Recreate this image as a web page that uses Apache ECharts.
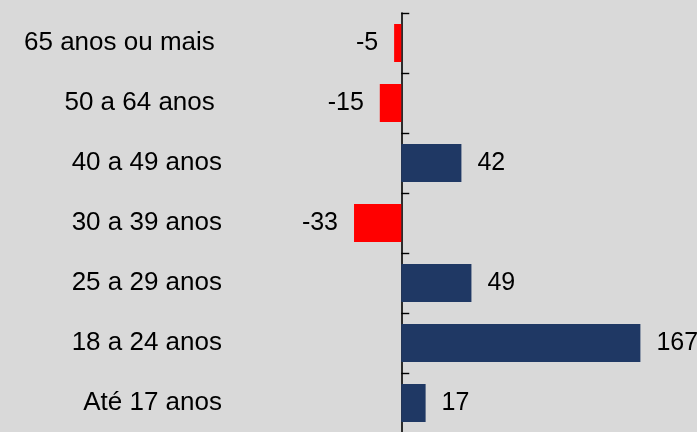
<!DOCTYPE html>
<html>
<head>
<meta charset="utf-8">
<script src="https://cdn.jsdelivr.net/npm/echarts@6/dist/echarts.min.js"></script>
<style>
html,body{margin:0;padding:0;background:#d9d9d9;}
#chart{width:697px;height:432px;}
</style>
</head>
<body>
<div id="chart"></div>
<script>
var categories = ['65 anos ou mais ', '50 a 64 anos ', '40 a 49 anos', '30 a 39 anos', '25 a 29 anos', '18 a 24 anos', 'Até 17 anos'];
var values = [-5, -15, 42, -33, 49, 167, 17];
var posColor = '#1f3864';
var negColor = '#ff0000';
var font = 'Liberation Sans, Arial, sans-serif';

var chart = echarts.init(document.getElementById('chart'), null, {renderer: 'canvas'});
var seriesData = values.map(function (v) {
  return {
    value: v,
    itemStyle: {color: v < 0 ? negColor : posColor},
    label: {position: v < 0 ? 'left' : 'right'}
  };
});
chart.setOption({
  backgroundColor: '#d9d9d9',
  animation: false,
  grid: {left: 344, width: 315, top: 13, height: 420, containLabel: false, outerBoundsMode: 'none'},
  xAxis: {
    type: 'value', min: -40, max: 180, show: false, splitLine: {show: false}
  },
  yAxis: {
    type: 'category',
    data: categories,
    inverse: true,
    axisLine: {show: true, onZero: true, lineStyle: {color: '#000', width: 1.6}},
    axisTick: {show: true, inside: true, length: 8, lineStyle: {color: '#000', width: 1.4}},
    axisLabel: {margin: 122, color: '#000', fontSize: 26, fontFamily: font}
  },
  series: [{
    type: 'bar',
    data: seriesData,
    barWidth: 38,
    label: {show: true, distance: 16, color: '#000', fontSize: 25, fontFamily: font}
  }]
});
</script>
</body>
</html>
